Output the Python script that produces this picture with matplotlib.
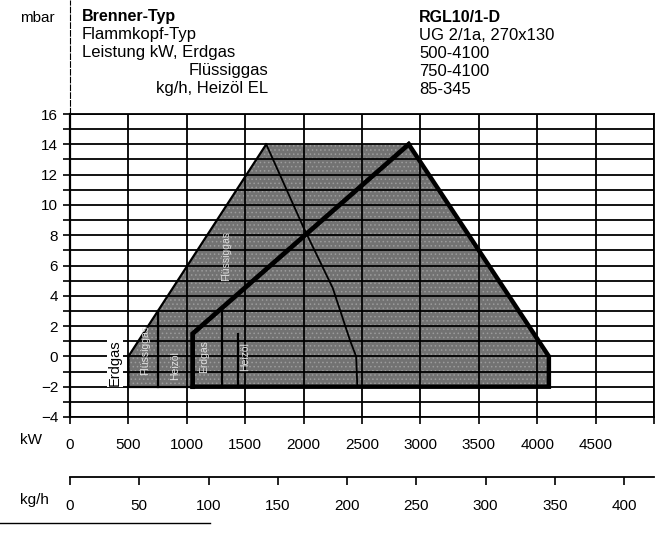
import numpy as np
import matplotlib.pyplot as plt
from matplotlib.patches import Polygon

plt.rcParams['font.family'] = ['Liberation Sans', 'DejaVu Sans']
plt.rcParams['hatch.linewidth'] = 0.6

# axis ticks
kw_ticks = [0, 500, 1000, 1500, 2000, 2500, 3000, 3500, 4000, 4500]
kgh_ticks = [0, 50, 100, 150, 200, 250, 300, 350, 400]
mbar_ticks = [-4, -2, 0, 2, 4, 6, 8, 10, 12, 14, 16]
KWH_PER_KG = 11.86  # Heizöl EL

# working field (kW, mbar)
field_kw = [500, 500, 1680, 2900, 4100, 4100]
field_mbar = [-2, 0, 14, 14, 0, -2]

# Heizöl curve
oil_kw = [1050, 1050, 2900]
oil_mbar = [-2, 1.5, 14]

# gas curve from the apex down
gas_kw = [1680, 2000, 2250, 2400, 2450, 2460]
gas_mbar = [14, 8.5, 4.5, 1.0, 0, -2]

# start lines inside the field
start_kw = [750, 1300, 1440]
start_top = [2.97, 3.2, 1.5]

header_left = ["Brenner-Typ", "Flammkopf-Typ", "Leistung kW, Erdgas",
               "Flüssiggas", "kg/h, Heizöl EL"]
header_right = ["RGL10/1-D", "UG 2/1a, 270x130", "500-4100",
                "750-4100", "85-345"]

W, H = 657, 538
fig = plt.figure(figsize=(W / 100, H / 100), dpi=100)
ax = fig.add_axes([70 / W, 1 - 417 / H, (654 - 70) / W, (417 - 114) / H])
ax.set_xlim(0, 5000)
ax.set_ylim(-4, 16)

ax.set_xticks(kw_ticks + [5000])
ax.set_xticklabels([str(v) for v in kw_ticks] + [''])
ax.set_yticks(mbar_ticks)
ax.set_yticks(np.arange(-3, 16, 2), minor=True)
ax.tick_params(axis='both', which='both', direction='out', length=5,
               width=1.2, labelsize=11, colors='black')
ax.tick_params(axis='x', pad=10)
ax.grid(True, which='both', color='black', linewidth=1.3, zorder=1)
ax.set_axisbelow(False)
for s in ax.spines.values():
    s.set_linewidth(1.3)
ax.spines['left'].set_linewidth(1.6)

# field, screened grey
pts = np.column_stack([field_kw, field_mbar])
ax.add_patch(Polygon(pts, closed=True, facecolor='#727272',
                     edgecolor='none', zorder=0.5))
ax.add_patch(Polygon(pts, closed=True, facecolor='none', edgecolor='#9c9c9c',
                     linewidth=0, hatch='....', zorder=0.6))
ax.plot(field_kw[:3], field_mbar[:3], color='black', lw=1.6, zorder=3)
ax.plot(field_kw[3:] + [1050], field_mbar[3:] + [-2], color='black', lw=3.2,
        zorder=3, solid_joinstyle='miter')
ax.plot([500, 1050], [-2, -2], color='black', lw=1.6, zorder=3)
ax.plot(oil_kw, oil_mbar, color='black', lw=3.4, zorder=3,
        solid_joinstyle='miter')
ax.plot(gas_kw, gas_mbar, color='black', lw=1.3, zorder=3)
for x, top in zip(start_kw, start_top):
    ax.plot([x, x], [-2, top], color='black', lw=1.6, zorder=3)

# labels of the start lines
ax.text(385, -0.4, "Erdgas", rotation=90, fontsize=10.5, ha='center',
        va='center', zorder=4,
        bbox=dict(facecolor='white', edgecolor='none', pad=0.5))
inner = [(640, 0.4, "Flüssiggas"), (900, -0.6, "Heizöl"),
         (1150, 0.0, "Erdgas"), (1340, 6.6, "Flüssiggas"),
         (1500, 0.0, "Heizöl")]
for x, y, s in inner:
    ax.text(x, y, s, rotation=90, fontsize=7.5, ha='center', va='center',
            color='#e0e0e0', zorder=4)

# left axis line running up to the top of the sheet
fig.add_artist(plt.Line2D([70 / W, 70 / W], [1 - 114 / H, 1.0],
                          color='black', lw=0.8, ls=(0, (6, 1))))

fig.text(20 / W, 1 - 18 / H, "mbar", fontsize=11, va='center')
fig.text(20 / W, 1 - 440 / H, "kW", fontsize=11, va='center')
fig.text(20 / W, 1 - 500 / H, "kg/h", fontsize=11, va='center')

rows = [17, 35, 53, 71, 89]
for i, (y, s, r) in enumerate(zip(rows, header_left, header_right)):
    weight = 'bold' if i == 0 else 'normal'
    size = 11.5 if i == 0 else 12
    if i < 3:
        fig.text(82 / W, 1 - y / H, s, fontsize=size, va='center',
                 fontweight=weight)
    else:
        fig.text(268 / W, 1 - y / H, s, fontsize=size, va='center',
                 ha='right', fontweight=weight)
    fig.text(419 / W, 1 - y / H, r, fontsize=size, va='center',
             fontweight=weight)

# second scale in kg/h of Heizöl
ax2 = fig.add_axes([70 / W, 1 - 477 / H, (654 - 70) / W, 0.0001])
ax2.set_xlim(0, 5000 / KWH_PER_KG)
ax2.set_xticks(kgh_ticks)
ax2.set_yticks([])
for k in ('top', 'left', 'right'):
    ax2.spines[k].set_visible(False)
ax2.spines['bottom'].set_linewidth(1.3)
ax2.tick_params(axis='x', direction='out', length=6, width=1.2,
                labelsize=11, pad=10)
ax2.patch.set_visible(False)

# rule at the foot of the page
fig.add_artist(plt.Line2D([0, 210 / W], [1 - 523 / H, 1 - 523 / H],
                          color='black', lw=1.0))

fig.savefig("out.png", dpi=100)
